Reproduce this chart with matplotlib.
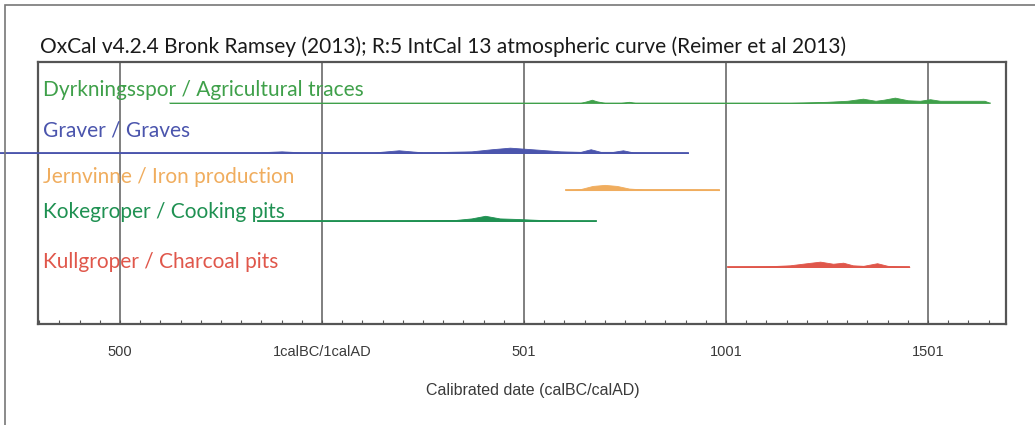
import numpy as np
import matplotlib
matplotlib.use('Agg')
import matplotlib.pyplot as plt
from matplotlib.patches import Rectangle

# Data (calendar years, 0 = 1calBC/1calAD), densities relative to each peak
title = "OxCal v4.2.4 Bronk Ramsey (2013); R:5 IntCal 13 atmospheric curve (Reimer et al 2013)"
xlabel = "Calibrated date (calBC/calAD)"
tick_years = [-500, 0, 500, 1000, 1500]
tick_labels = ["500", "1calBC/1calAD", "501", "1001", "1501"]

names = ["Dyrkningsspor / Agricultural traces", "Graver / Graves",
         "Jernvinne / Iron production", "Kokegroper / Cooking pits",
         "Kullgroper / Charcoal pits"]
colors = ["#3fa04a", "#4b55ad", "#f0ad5e", "#1f9152", "#e0574b"]

dyrk_years = [-377, 640, 655, 668, 680, 700, 740, 760, 775, 1160, 1250, 1300, 1339, 1370,
              1390, 1418, 1450, 1480, 1505, 1530, 1560, 1640, 1653]
dyrk_dens = [0, 0, 0.3, 0.6, 0.3, 0, 0, 0.2, 0, 0, 0.2, 0.4, 0.8, 0.4,
             0.6, 1.0, 0.5, 0.4, 0.7, 0.4, 0.4, 0.4, 0]

graves_years = [-797, -300, -160, -100, -50, 130, 190, 250, 370, 420, 465, 520, 590,
                640, 665, 690, 720, 745, 770, 906]
graves_dens = [0, 0.1, 0.1, 0.3, 0.1, 0.1, 0.5, 0.1, 0.3, 0.7, 1.0, 0.7, 0.3,
               0.2, 0.7, 0.2, 0.2, 0.5, 0.1, 0]

iron_years = [603, 640, 670, 700, 730, 760, 800, 900, 983]
iron_dens = [0, 0.2, 0.8, 1.0, 0.8, 0.3, 0.1, 0.1, 0]

cook_years = [-159, 0, 200, 330, 370, 404, 440, 480, 540, 600, 677]
cook_dens = [0, 0.05, 0.1, 0.2, 0.5, 1.0, 0.5, 0.4, 0.2, 0.05, 0]

char_years = [1005, 1100, 1158, 1200, 1233, 1265, 1290, 1314, 1340, 1374, 1400, 1420, 1454]
char_dens = [0, 0.1, 0.3, 0.7, 1.0, 0.6, 0.8, 0.3, 0.2, 0.7, 0.2, 0.1, 0]

series_years = [dyrk_years, graves_years, iron_years, cook_years, char_years]
series_dens = [dyrk_dens, graves_dens, iron_dens, cook_dens, char_dens]

# Layout (axes fractions)
row_base = [0.844, 0.653, 0.511, 0.393, 0.218]
label_y = [0.893, 0.737, 0.561, 0.427, 0.237]
line_alpha = [0.35, 1, 1, 1, 1]
peak_h = 0.02

plt.rcParams['font.family'] = ['Lato', 'DejaVu Sans']

fig = plt.figure(figsize=(10.35, 4.25), dpi=100)
ax = fig.add_axes([38/1035, 1 - 324/425, (1006 - 38)/1035, (324 - 62)/425])
ax.set_xlim(-703, 1693)
ax.set_ylim(0, 1)

# outer frame
fig.patches.append(Rectangle((5/1035, -0.5), 2, 1 - 5/425 + 0.5, transform=fig.transFigure,
                             fill=False, edgecolor='#777777', linewidth=1.2))

for x in tick_years:
    ax.axvline(x, color='#6a6a6a', linewidth=1.2, zorder=1)

for name, col, yrs, dens, base, ly, la in zip(names, colors, series_years, series_dens,
                                               row_base, label_y, line_alpha):
    yrs = np.array(yrs)
    dens = np.array(dens)
    ax.plot([yrs[0], yrs[-1]], [base, base], color=col, linewidth=1.3, alpha=la,
            zorder=3, clip_on=False)
    ax.fill_between(yrs, base, base + dens * peak_h, color=col, linewidth=0.6,
                    zorder=3, clip_on=False)
    ax.text(-690, ly, name, color=col, fontsize=15, va='center', ha='left', zorder=4)

ax.set_yticks([])
ax.set_xticks(tick_years)
ax.set_xticklabels(tick_labels, fontsize=10.5, color='#3a3a3a', family='Liberation Sans')
ax.set_xticks(np.arange(-700, 1700, 50), minor=True)
ax.tick_params(axis='x', which='both', direction='in', length=3, width=0.8,
               color='#555555', pad=15)
ax.set_xlabel(xlabel, fontsize=11.5, color='#3a3a3a', family='Liberation Sans')
ax.xaxis.set_label_coords(0.511, -0.225)
for s in ax.spines.values():
    s.set_color('#555555')
    s.set_linewidth(1.6)

fig.text(40/1035, 1 - 47/425, title, fontsize=15, color='#1a1a1a', va='center', ha='left')

fig.savefig("out.png", dpi=100)
